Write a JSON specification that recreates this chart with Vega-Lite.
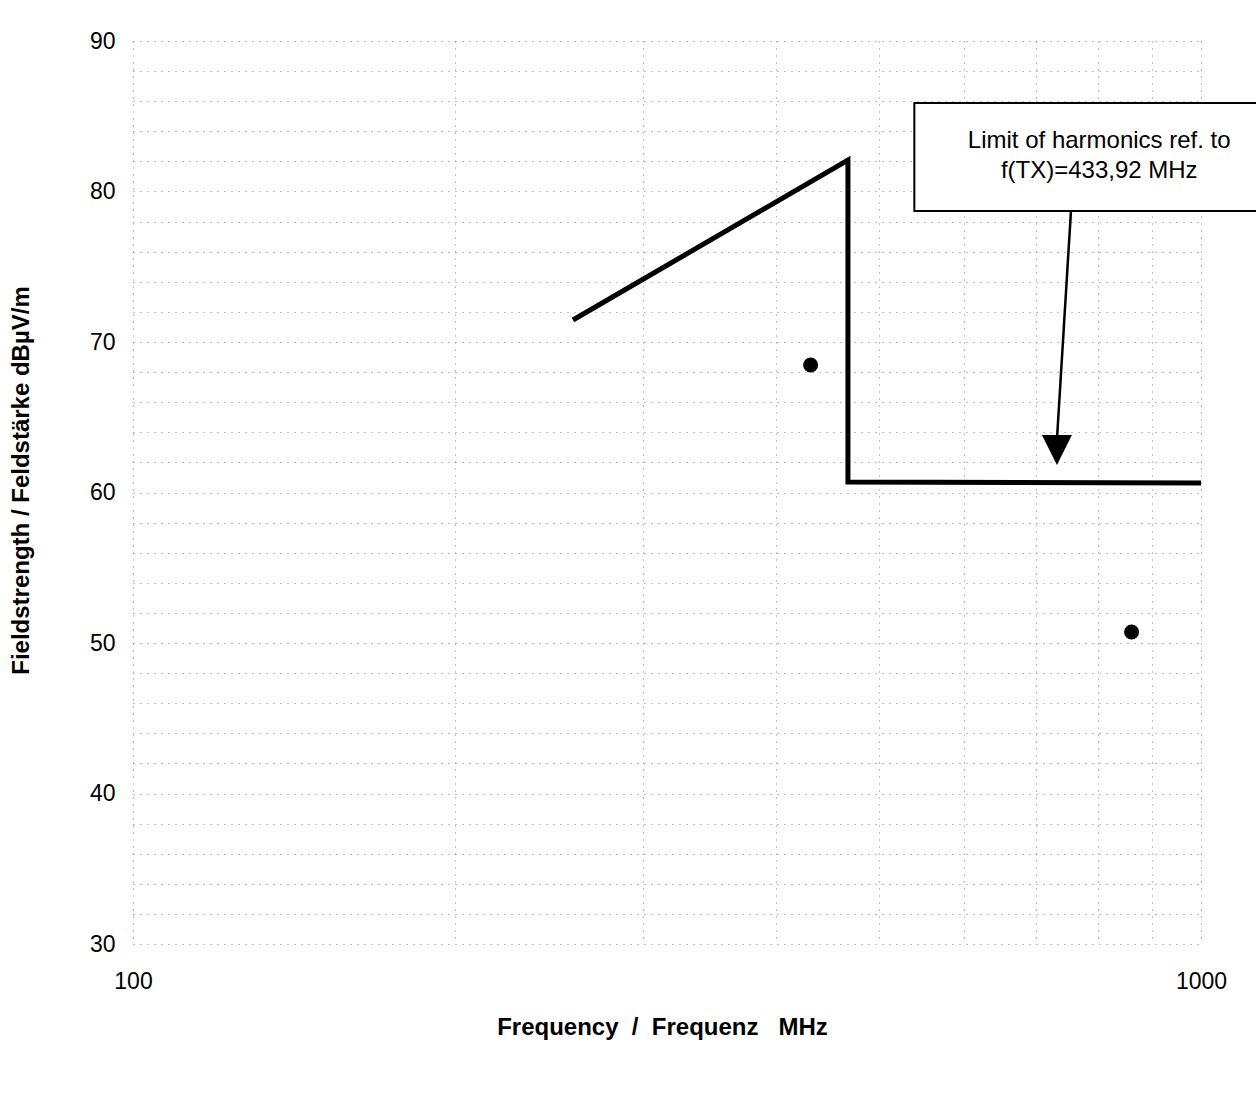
{
  "$schema": "https://vega.github.io/schema/vega-lite/v6.json",
  "width": 1068,
  "height": 903,
  "autosize": {"type": "none"},
  "padding": {"left": 133, "top": 41, "right": 55, "bottom": 149},
  "background": "white",
  "config": {"view": {"stroke": null}, "font": "Liberation Sans"},
  "data": {
    "values": [
      {"kind": "limit", "idx": 1, "freq": 258.2, "level": 71.46},
      {"kind": "limit", "idx": 2, "freq": 467.1, "level": 82.09},
      {"kind": "limit", "idx": 3, "freq": 467.1, "level": 60.7},
      {"kind": "limit", "idx": 4, "freq": 1000, "level": 60.63},
      {"kind": "meas", "freq": 431, "level": 68.47},
      {"kind": "meas", "freq": 861, "level": 50.73},
      {"kind": "box", "freq": 539, "level": 85.88, "freq2": 1200, "level2": 78.7},
      {"kind": "label", "freq": 803, "level": 83.36, "text": "Limit of harmonics ref. to"},
      {"kind": "label", "freq": 803, "level": 81.36, "text": "f(TX)=433,92 MHz"},
      {"kind": "arrow", "freq": 755.5, "level": 78.7, "freq2": 733, "level2": 63.5},
      {"kind": "head", "freq": 733, "level": 62.82}
    ]
  },
  "encoding": {
    "x": {
      "field": "freq",
      "type": "quantitative",
      "scale": {"type": "log", "domain": [100, 1000], "nice": false},
      "axis": {
        "title": "Frequency\u00a0\u00a0/\u00a0\u00a0Frequenz\u00a0\u00a0\u00a0MHz",
        "values": [100, 200, 300, 400, 500, 600, 700, 800, 900, 1000],
        "format": "d",
        "labelExpr": "datum.value == 100 || datum.value == 1000 ? datum.label : ''",
        "grid": true,
        "gridColor": "#808080",
        "gridDash": [1, 6],
        "gridWidth": 1,
        "domain": false,
        "ticks": false,
        "labelFont": "Liberation Sans",
        "labelFontSize": 23,
        "labelColor": "black",
        "labelPadding": 44,
        "labelBaseline": "alphabetic",
        "labelFlush": false,
        "labelOverlap": false,
        "titleFont": "Liberation Sans",
        "titleFontSize": 24,
        "titleFontWeight": "bold",
        "titleColor": "black",
        "titleX": 529,
        "titleY": 90,
        "titleBaseline": "alphabetic",
        "titleAlign": "center"
      }
    },
    "y": {
      "field": "level",
      "type": "quantitative",
      "scale": {"domain": [30, 90], "nice": false, "zero": false},
      "axis": {
        "title": "Fieldstrength / Feldstärke  dBµV/m",
        "values": [30, 32, 34, 36, 38, 40, 42, 44, 46, 48, 50, 52, 54, 56, 58, 60, 62, 64, 66, 68, 70, 72, 74, 76, 78, 80, 82, 84, 86, 88, 90],
        "labelExpr": "datum.value % 10 == 0 ? datum.label : ''",
        "grid": true,
        "gridColor": "#808080",
        "gridDash": [1, 6],
        "gridWidth": 1,
        "domain": false,
        "ticks": false,
        "labelFont": "Liberation Sans",
        "labelFontSize": 23,
        "labelColor": "black",
        "labelPadding": 18,
        "labelFlush": false,
        "labelOverlap": false,
        "titleFont": "Liberation Sans",
        "titleFontSize": 24,
        "titleFontWeight": "bold",
        "titleColor": "black",
        "titleX": -105,
        "titleY": 439,
        "titleAngle": -90,
        "titleBaseline": "alphabetic",
        "titleAlign": "center"
      }
    }
  },
  "layer": [
    {
      "transform": [{"filter": "datum.kind == 'limit'"}],
      "mark": {"type": "line", "color": "black", "strokeWidth": 5, "strokeJoin": "miter", "strokeCap": "butt"},
      "encoding": {"order": {"field": "idx", "type": "quantitative"}}
    },
    {
      "transform": [{"filter": "datum.kind == 'meas'"}],
      "mark": {"type": "point", "shape": "circle", "filled": true, "color": "black", "opacity": 1, "size": 225}
    },
    {
      "transform": [{"filter": "datum.kind == 'box'"}],
      "mark": {"type": "rect", "fill": "white", "stroke": "black", "strokeWidth": 2},
      "encoding": {"x2": {"field": "freq2"}, "y2": {"field": "level2"}}
    },
    {
      "transform": [{"filter": "datum.kind == 'label'"}],
      "mark": {"type": "text", "font": "Liberation Sans", "fontSize": 24, "color": "black", "align": "center", "baseline": "middle"},
      "encoding": {"text": {"field": "text", "type": "nominal"}}
    },
    {
      "transform": [{"filter": "datum.kind == 'arrow'"}],
      "mark": {"type": "rule", "color": "black", "strokeWidth": 2.5},
      "encoding": {"x2": {"field": "freq2"}, "y2": {"field": "level2"}}
    },
    {
      "transform": [{"filter": "datum.kind == 'head'"}],
      "mark": {"type": "point", "shape": "M-1,-1L1,-1L0,1Z", "filled": true, "color": "black", "opacity": 1, "size": 900, "strokeWidth": 0}
    }
  ]
}
